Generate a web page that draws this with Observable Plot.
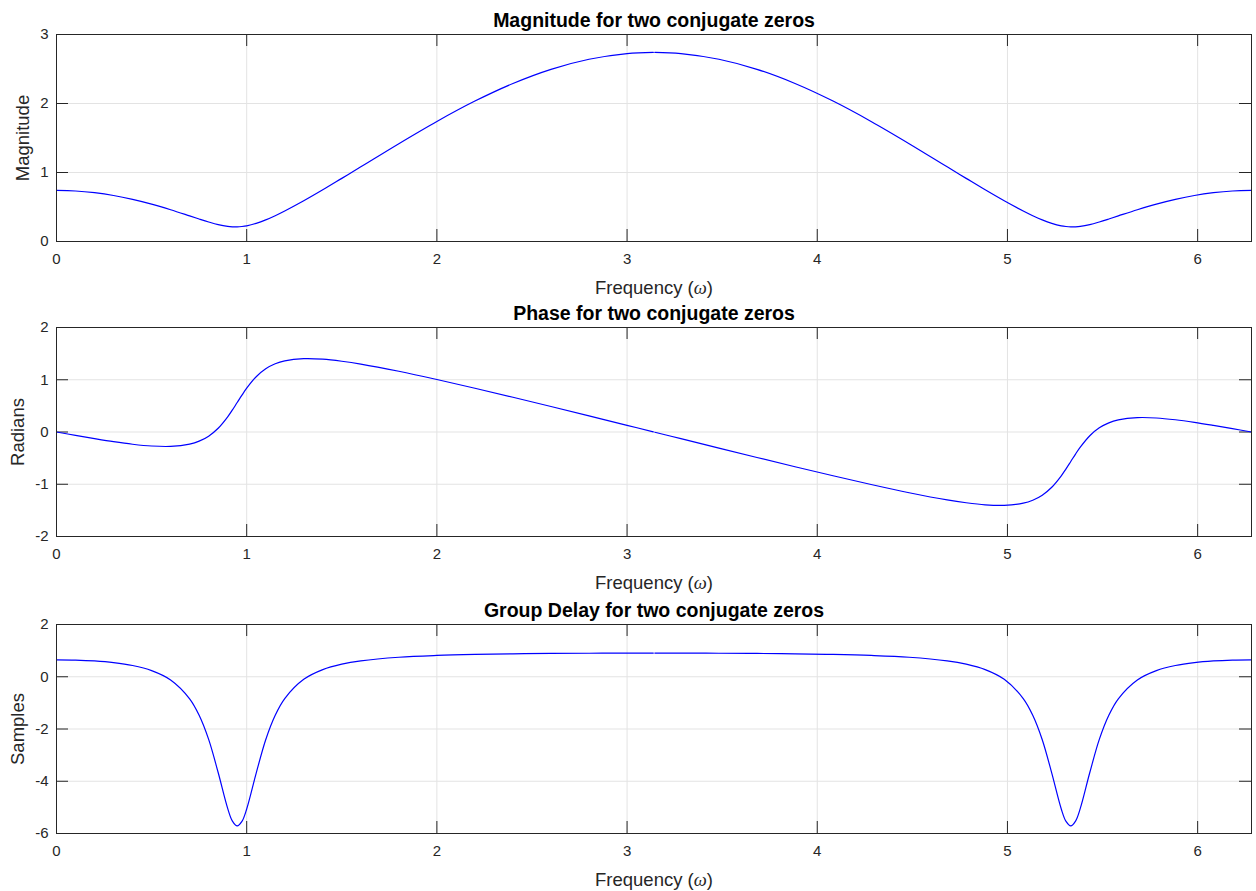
<!DOCTYPE html>
<html>
<head>
<meta charset="utf-8">
<script src="https://cdn.jsdelivr.net/npm/d3@7"></script>
<script src="https://cdn.jsdelivr.net/npm/@observablehq/plot@0.6"></script>
<style>
html, body { margin: 0; padding: 0; background: #ffffff; }
#chart { width: 1256px; height: 891px; }
#chart svg { display: block; }
</style>
</head>
<body>
<div id="chart"></div>
<script>
// Frequency samples (rad)
const omega = [0, 0.1, 0.2, 0.3, 0.4, 0.5, 0.6, 0.7, 0.75, 0.8, 0.85, 0.9, 0.925, 0.95, 0.975, 1.0,
  1.05, 1.1, 1.15, 1.2, 1.3, 1.4, 1.5, 1.6, 1.8, 2.0, 2.2, 2.4, 2.6, 2.8, 3.0, 3.138,
  3.146, 3.283, 3.483, 3.683, 3.883, 4.083, 4.283, 4.483, 4.683, 4.783, 4.883, 4.983,
  5.083, 5.133, 5.183, 5.233, 5.283, 5.308, 5.333, 5.358, 5.383, 5.433, 5.483, 5.533,
  5.583, 5.683, 5.783, 5.883, 5.983, 6.083, 6.183, 6.283];

const magnitude = [0.740, 0.732, 0.707, 0.667, 0.611, 0.542, 0.460, 0.371, 0.326, 0.283, 0.245, 0.219, 0.213, 0.212, 0.217, 0.227,
  0.263, 0.313, 0.374, 0.442, 0.590, 0.749, 0.915, 1.082, 1.418, 1.740, 2.035, 2.290, 2.495, 2.641, 2.723, 2.740,
  2.740, 2.723, 2.641, 2.495, 2.290, 2.035, 1.740, 1.418, 1.082, 0.915, 0.749, 0.590,
  0.442, 0.374, 0.313, 0.263, 0.227, 0.217, 0.212, 0.213, 0.219, 0.245, 0.283, 0.326,
  0.371, 0.460, 0.542, 0.611, 0.667, 0.707, 0.732, 0.740];

const phase = [0.000, -0.065, -0.127, -0.185, -0.234, -0.268, -0.275, -0.231, -0.175, -0.079, 0.071, 0.290, 0.422, 0.564, 0.705, 0.838,
  1.057, 1.209, 1.305, 1.361, 1.403, 1.393, 1.354, 1.300, 1.162, 1.005, 0.838, 0.665, 0.488, 0.309, 0.128, 0.003,
  -0.004, -0.128, -0.309, -0.488, -0.665, -0.838, -1.005, -1.162, -1.300, -1.354, -1.393, -1.403,
  -1.361, -1.305, -1.209, -1.057, -0.838, -0.705, -0.564, -0.422, -0.290, -0.071, 0.079, 0.175,
  0.231, 0.275, 0.268, 0.234, 0.185, 0.127, 0.065, 0.000];

const groupDelay = [0.649, 0.638, 0.605, 0.541, 0.430, 0.235, -0.123, -0.844, -1.473, -2.397, -3.666, -5.039, -5.525, -5.710, -5.538, -5.061,
  -3.689, -2.409, -1.473, -0.835, -0.099, 0.273, 0.481, 0.607, 0.746, 0.815, 0.854, 0.877, 0.892, 0.900, 0.904, 0.905,
  0.905, 0.904, 0.900, 0.892, 0.877, 0.854, 0.815, 0.746, 0.607, 0.481, 0.273, -0.099,
  -0.835, -1.473, -2.409, -3.689, -5.061, -5.538, -5.710, -5.525, -5.039, -3.666, -2.397, -1.473,
  -0.844, -0.123, 0.235, 0.430, 0.541, 0.605, 0.638, 0.649];

const xTicks = [0, 1, 2, 3, 4, 5, 6];
const magTicks = [0, 1, 2, 3];
const phaseTicks = [-2, -1, 0, 1, 2];
const delayTicks = [-6, -4, -2, 0, 2];

const titles = ["Magnitude for two conjugate zeros", "Phase for two conjugate zeros", "Group Delay for two conjugate zeros"];
const yLabels = ["Magnitude", "Radians", "Samples"];
const xLabel = "Frequency (ω)";

const W = 1256, H = 297;
const ML = 56, MR = 5;
const FONT = '"Liberation Sans", Arial, Helvetica, sans-serif';
const AX = "#262626";
const GRID = "#e3e3e3";
const TICK = 12;

function panel({values, yDomain, yTicks, title, yLabel, marginTop, marginBottom, yLabelDx}) {
  const rows = omega.map((x, i) => ({x, y: values[i], seg: x < Math.PI ? 0 : 1}));
  const innerH = H - marginTop - marginBottom;
  const innerW = W - ML - MR;
  const svg = Plot.plot({
    width: W, height: H,
    marginLeft: ML, marginRight: MR, marginTop, marginBottom,
    style: {fontFamily: FONT, fontSize: "15px", color: AX, background: "#ffffff", overflow: "visible"},
    x: {domain: [0, 2 * Math.PI], ticks: xTicks, tickSize: 0, tickPadding: 12, tickFormat: d => String(d), label: null},
    y: {domain: yDomain, ticks: yTicks, tickSize: 0, tickPadding: 8, tickFormat: d => String(d), label: null},
    marks: [
      Plot.ruleX(xTicks, {x: d => d, stroke: GRID, strokeWidth: 1}),
      Plot.ruleY(yTicks, {y: d => d, stroke: GRID, strokeWidth: 1}),
      Plot.ruleX(xTicks, {x: d => d, stroke: AX, strokeWidth: 1, insetTop: innerH - TICK}),
      Plot.ruleX(xTicks, {x: d => d, stroke: AX, strokeWidth: 1, insetBottom: innerH - TICK}),
      Plot.ruleY(yTicks, {y: d => d, stroke: AX, strokeWidth: 1, insetRight: innerW - TICK}),
      Plot.ruleY(yTicks, {y: d => d, stroke: AX, strokeWidth: 1, insetLeft: innerW - TICK}),
      Plot.line(rows, {x: "x", y: "y", z: "seg", stroke: "#0000ff", strokeWidth: 1.2, curve: "catmull-rom"}),
      Plot.frame({stroke: AX, strokeWidth: 1}),
      Plot.text([title], {text: d => d, frameAnchor: "top", textAnchor: "middle", lineAnchor: "bottom", dy: -8,
        fontWeight: "bold", fontSize: 19.5, fill: "#000000"}),
      Plot.text([xLabel], {text: d => d, frameAnchor: "bottom", textAnchor: "middle", lineAnchor: "bottom", dy: 52,
        fontSize: 18.5, fill: AX}),
      Plot.text([yLabel], {text: d => d, frameAnchor: "left", textAnchor: "middle", rotate: -90, dx: yLabelDx,
        fontSize: 18.5, fill: AX})
    ]
  });
  // italic omega in the x label (as in TeX rendering)
  for (const t of svg.querySelectorAll("text")) {
    if (t.textContent === xLabel) {
      while (t.firstChild) t.removeChild(t.firstChild);
      const ns = "http://www.w3.org/2000/svg";
      const a = document.createElementNS(ns, "tspan"); a.textContent = "Frequency (";
      const b = document.createElementNS(ns, "tspan"); b.textContent = "ω";
      b.setAttribute("font-style", "italic"); b.setAttribute("font-family", '"Liberation Serif", "DejaVu Serif", serif');
      const c = document.createElementNS(ns, "tspan"); c.textContent = ")";
      t.append(a, b, c);
    }
  }
  return svg;
}

const chart = document.getElementById("chart");
chart.append(panel({values: magnitude, yDomain: [0, 3], yTicks: magTicks, title: titles[0], yLabel: yLabels[0], marginTop: 34, marginBottom: 56, yLabelDx: -33}));
chart.append(panel({values: phase, yDomain: [-2, 2], yTicks: phaseTicks, title: titles[1], yLabel: yLabels[1], marginTop: 30, marginBottom: 58, yLabelDx: -38}));
chart.append(panel({values: groupDelay, yDomain: [-6, 2], yTicks: delayTicks, title: titles[2], yLabel: yLabels[2], marginTop: 30, marginBottom: 58, yLabelDx: -38}));
</script>
</body>
</html>
